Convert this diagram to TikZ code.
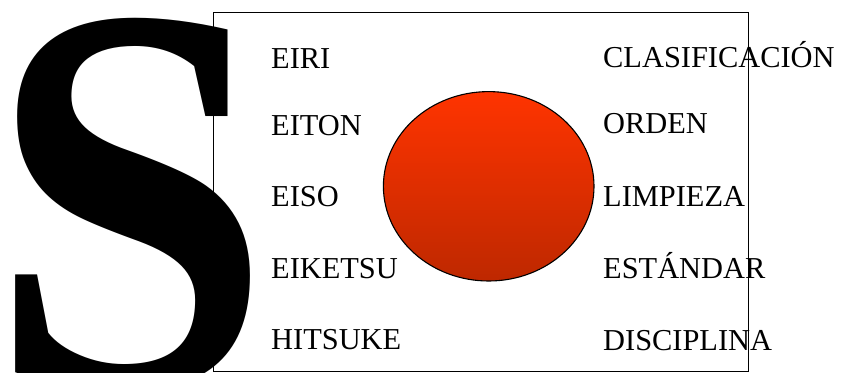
\documentclass[tikz,border=0pt]{standalone}
\usepackage{fontspec}
\usepackage{graphicx}
\setmainfont{Liberation Serif}
\usetikzlibrary{shapes.geometric}
\definecolor{redtop}{RGB}{255,52,0}
\definecolor{redbot}{RGB}{190,40,0}
\tikzset{
  lbl/.style={anchor=base west, inner sep=0pt, font=\fontsize{30.4}{36}\selectfont},
  bigS/.style={anchor=base west, inner sep=0pt, font=\bfseries\fontsize{515}{515}\selectfont},
  ball/.style={ellipse, draw=black, line width=1.1pt, inner sep=0pt,
    minimum width=210.6pt, minimum height=189.4pt, top color=redtop, bottom color=redbot}
}
\begin{document}
\begin{tikzpicture}[x=1pt,y=-1pt]
\useasboundingbox (0,0) rectangle (848,372);
\clip (0,0) rectangle (848,372);
\draw[line width=0.9pt] (213,12) rectangle (748,371);
\draw[line width=0.6pt] (748,12) -- (748,372);
\node[bigS] (S) at (-12,386) {\scalebox{0.99}[1.08]{S}};
\node[lbl] (eiri) at (271,68) {EIRI};
\node[lbl] (eiton) at (271,135) {EITON};
\node[lbl] (eiso) at (271,206) {EISO};
\node[lbl] (eiketsu) at (271,278) {EIKETSU};
\node[lbl] (hitsuke) at (271,349) {HITSUKE};
\node[lbl] (clas) at (603,67) {CLASIFICACIÓN};
\node[lbl] (orden) at (603,133) {ORDEN};
\node[lbl] (limp) at (603,206.5) {LIMPIEZA};
\node[lbl] (estd) at (603,278) {ESTÁNDAR};
\node[lbl] (disc) at (603,350) {DISCIPLINA};
\node[ball] (circ) at (488.7,186.3) {};
\end{tikzpicture}
\end{document}
